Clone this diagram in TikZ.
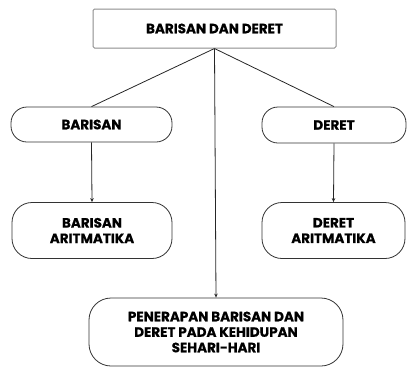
\documentclass[tikz,border=0pt]{standalone}
\usepackage{fontspec}
\setmainfont{Poppins}[BoldFeatures={FakeBold=0.6}]
\usetikzlibrary{arrows.meta}
\tikzset{
  box/.style={draw=black!80, line width=0.8pt, rounded corners=16pt, align=center,
    font=\fontsize{13.5}{15.5}\selectfont\bfseries, inner sep=0pt},
  topbox/.style={draw=black!45, line width=1pt, rounded corners=1.5pt, align=center,
    font=\fontsize{13.5}{15.5}\selectfont\bfseries, inner sep=0pt},
  link/.style={draw=black!85, line width=0.8pt},
  arr/.style={link, -{Stealth[length=4pt,width=3.5pt]}}
}
\begin{document}
\begin{tikzpicture}[x=1pt,y=-1pt]
\useasboundingbox (0,0) rectangle (408,368);
\node[topbox, minimum width=243pt, minimum height=39pt] (top) at (214.5,28.5) {BARISAN DAN DERET};
\node[box, minimum width=161pt, minimum height=35pt] (bar) at (91.5,124.5) {BARISAN};
\node[box, minimum width=144pt, minimum height=36pt] (der) at (334,125) {DERET};
\node[box, minimum width=160pt, minimum height=56pt, rounded corners=20pt] (bara) at (92,230.5) {BARISAN\\ARITMATIKA};
\node[box, minimum width=143pt, minimum height=56pt, rounded corners=20pt] (dera) at (333.5,230.5) {DERET\\ARITMATIKA};
\node[box, minimum width=254pt, minimum height=68pt, rounded corners=22pt] (app) at (216,332) {PENERAPAN BARISAN DAN\\DERET PADA KEHIDUPAN\\SEHARI-HARI};
\draw[link] (top.south) -- (bar.north);
\draw[link] (top.south) -- (der.north);
\draw[arr] (top.south) -- (app.north);
\draw[arr] (bar.south) -- (bara.north);
\draw[arr] (der.south) -- (dera.north);
\end{tikzpicture}
\end{document}
